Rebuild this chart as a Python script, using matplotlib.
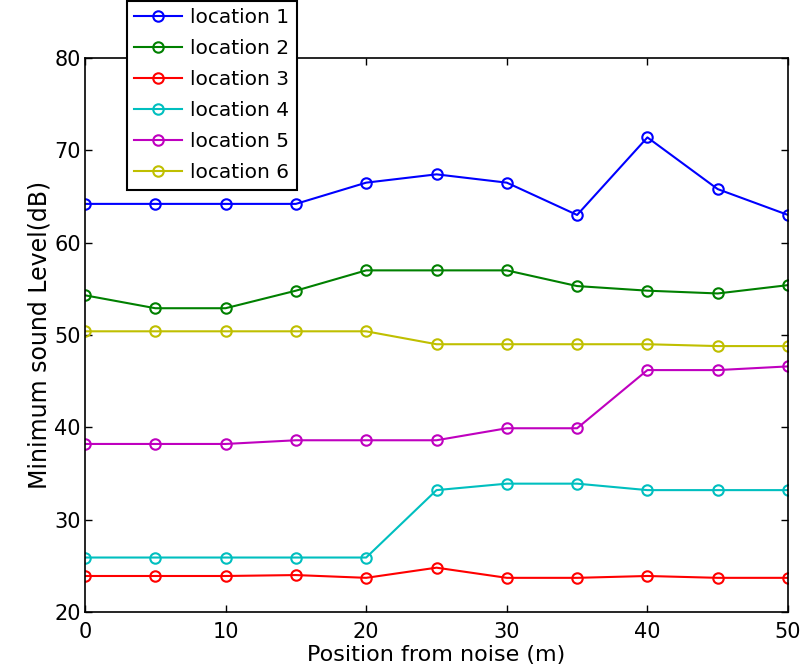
import numpy as np
import matplotlib.pyplot as plt

# positions from noise (m)
positions = [0, 5, 10, 15, 20, 25, 30, 35, 40, 45, 50]

loc1 = [64.2, 64.2, 64.2, 64.2, 66.5, 67.4, 66.5, 63.0, 71.4, 65.8, 63.0]
loc2 = [54.3, 52.9, 52.9, 54.8, 57.0, 57.0, 57.0, 55.3, 54.8, 54.5, 55.4]
loc3 = [23.9, 23.9, 23.9, 24.0, 23.7, 24.8, 23.7, 23.7, 23.9, 23.7, 23.7]
loc4 = [25.9, 25.9, 25.9, 25.9, 25.9, 33.2, 33.9, 33.9, 33.2, 33.2, 33.2]
loc5 = [38.2, 38.2, 38.2, 38.6, 38.6, 38.6, 39.9, 39.9, 46.2, 46.2, 46.6]
loc6 = [50.4, 50.4, 50.4, 50.4, 50.4, 49.0, 49.0, 49.0, 49.0, 48.8, 48.8]

series = [loc1, loc2, loc3, loc4, loc5, loc6]
labels = ['location 1', 'location 2', 'location 3',
          'location 4', 'location 5', 'location 6']
colors = ['#0000ff', '#008000', '#ff0000', '#00bfbf', '#bf00bf', '#bfbf00']

plt.rcParams['font.family'] = ['DejaVu Sans']

fig = plt.figure(figsize=(8.01, 6.70), dpi=100)
ax = fig.add_axes([85 / 801, 58 / 670, 703 / 801, 554 / 670])

for vals, lab, col in zip(series, labels, colors):
    ax.plot(positions, vals, color=col, linewidth=1.5, marker='o',
            markersize=7.5, markerfacecolor='none', markeredgewidth=1.5,
            label=lab)

ax.set_xlim(0, 50)
ax.set_ylim(20, 80)
ax.set_xticks(np.arange(0, 51, 10))
ax.set_yticks(np.arange(20, 81, 10))
ax.tick_params(direction='in', top=True, right=True, labelsize=15,
               length=5, width=1)
ax.tick_params(axis='x', pad=7)
ax.tick_params(axis='y', pad=3)
for s in ax.spines.values():
    s.set_linewidth(1.2)

ax.set_xlabel('Position from noise (m)', fontsize=16, labelpad=2)
ax.set_ylabel('Minimum sound Level(dB)', fontsize=17, labelpad=2)

# legend box hangs above the axes, like the original
leg = ax.legend(loc='upper left', bbox_to_anchor=(127 / 801, 1 - 1 / 670),
                bbox_transform=fig.transFigure, fontsize=14.5, frameon=True,
                fancybox=False, edgecolor='black', framealpha=1,
                handlelength=2.4, handletextpad=0.4, labelspacing=0.6,
                borderpad=0.35, borderaxespad=0)
leg.get_frame().set_linewidth(1.5)

fig.savefig('out.png', dpi=100)
